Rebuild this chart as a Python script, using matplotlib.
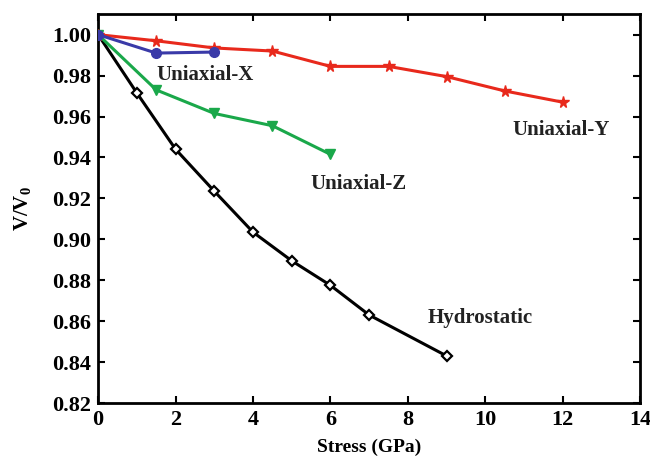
import matplotlib
matplotlib.use('Agg')
import matplotlib.pyplot as plt

plt.rcParams['font.family'] = ['Liberation Serif', 'DejaVu Serif']
plt.rcParams['font.weight'] = 'bold'
plt.rcParams['axes.labelweight'] = 'bold'
plt.rcParams['mathtext.fontset'] = 'custom'
plt.rcParams['mathtext.rm'] = 'Liberation Serif:bold'
plt.rcParams['mathtext.it'] = 'Liberation Serif:bold'

# 数据
hydro_x = [0, 1, 2, 3, 4, 5, 6, 7, 9]
hydro_y = [1.0, 0.9715, 0.944, 0.9235, 0.9035, 0.8895, 0.8775, 0.863, 0.843]
y_x = [0, 1.5, 3, 4.5, 6, 7.5, 9, 10.5, 12]
y_y = [1.0, 0.997, 0.9935, 0.992, 0.9845, 0.9845, 0.9795, 0.9725, 0.967]
z_x = [0, 1.5, 3, 4.5, 6]
z_y = [1.0, 0.973, 0.9615, 0.9555, 0.9415]
x_x = [0, 1.5, 3]
x_y = [1.0, 0.991, 0.9915]

fig = plt.figure(figsize=(6.5, 4.58), dpi=100)
ax = fig.add_axes([0.151, 0.12, 0.834, 0.849])

ax.plot(hydro_x, hydro_y, color='black', lw=2.2, marker='D', ms=5.5,
        mfc='white', mec='black', mew=1.6, zorder=3)
ax.plot(y_x, y_y, color='#e8291c', lw=2.2, marker='*', ms=8.5, zorder=3)
ax.plot(z_x, z_y, color='#1aa84a', lw=2.2, marker='v', ms=7, zorder=4)
ax.plot(x_x, x_y, color='#3a3aa8', lw=2.2, marker='o', ms=7, zorder=4)

ax.text(1.5, 0.9804, 'Uniaxial-X', fontsize=15, va='center', color='#222222')
ax.text(10.7, 0.9535, 'Uniaxial-Y', fontsize=15, va='center', color='#222222')
ax.text(5.48, 0.927, 'Uniaxial-Z', fontsize=15, va='center', color='#222222')
ax.text(8.52, 0.8615, 'Hydrostatic', fontsize=15, va='center', color='#222222')

ax.set_xlim(0, 14)
ax.set_ylim(0.82, 1.01)
ax.set_xticks(range(0, 15, 2))
ax.set_yticks([0.82, 0.84, 0.86, 0.88, 0.90, 0.92, 0.94, 0.96, 0.98, 1.00])
ax.set_yticklabels(['%.2f' % v for v in ax.get_yticks()])
ax.tick_params(direction='in', top=True, right=True, labelsize=16, width=1.5, length=5, pad=5)
for s in ax.spines.values():
    s.set_linewidth(2)

ax.set_xlabel('Stress (GPa)', fontsize=14, labelpad=6)
ax.set_ylabel('V/V$_0$', fontsize=15, labelpad=14)

plt.savefig('out.png', dpi=100)
